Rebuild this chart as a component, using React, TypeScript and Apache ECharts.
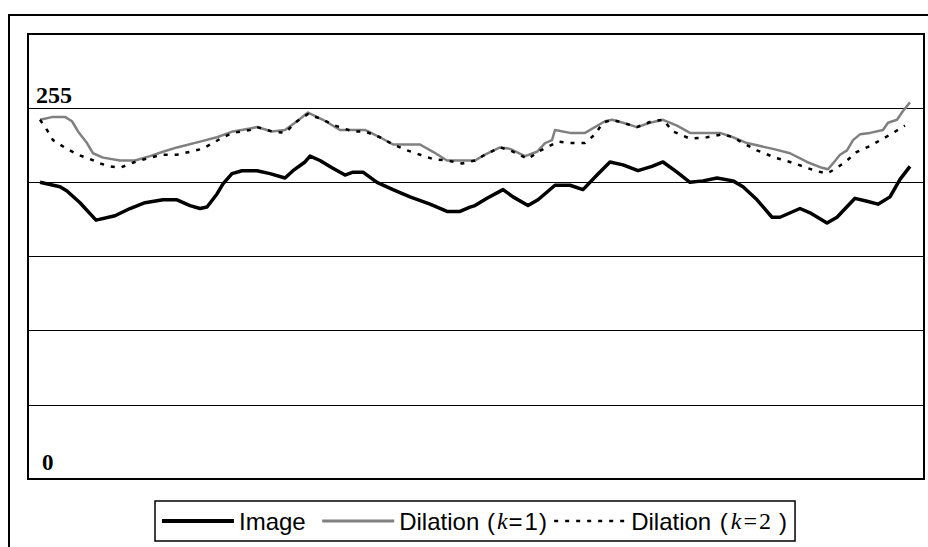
import React, { useEffect, useRef } from "react";
import * as echarts from "echarts";

// Column position (pixel index along the image row)
const imageX = [0,20,27,40,56,75,90,105,123,137,150,160,167,177,183,192,202,217,230,245,253,265,270,280,292,305,313,323,337,353,370,390,407,420,430,435,447,463,473,488,498,515,530,543,557,570,583,598,612,623,637,650,663,677,693,703,717,732,740,760,770,787,797,815,827,838,850,860,870];
const imageY = [204,201,198,190,178,181,186,190,192,192,188,186,187,196,203,210,212,212,210,207,212,218,222,219,214,209,211,211,204,199,194,189,184,184,187,188,193,199,194,188,192,202,202,199,209,218,216,212,215,218,211,204,205,207,205,201,192,180,180,186,183,176,180,193,191,189,194,206,215];

const dil1X = [0,13,25,32,38,47,53,63,80,95,110,123,137,160,177,193,210,217,232,245,257,268,283,300,325,340,353,380,393,407,420,435,445,460,470,485,497,505,512,515,530,545,565,572,583,597,610,623,637,650,680,693,707,733,750,767,782,788,793,800,807,813,820,830,843,848,857,863,870];
const dil1Y = [247,249,249,246,239,231,224,221,219,219,222,225,228,232,235,239,241,242,239,240,246,252,247,240,240,235,230,230,225,219,219,219,223,228,227,222,225,231,233,240,238,238,246,247,245,242,245,247,243,238,238,235,231,227,224,218,214,213,217,223,226,233,237,238,240,245,247,253,259];

const dil2X = [0,7,13,27,38,50,60,70,80,95,110,123,137,150,162,173,183,193,210,217,232,245,257,268,283,295,313,325,340,353,367,380,393,407,422,435,445,460,470,488,498,518,530,545,555,563,572,583,597,612,623,633,650,667,683,693,703,717,735,750,763,775,787,797,807,817,830,843,853,865];
const dil2Y = [247,240,233,227,223,220,217,215,214,218,221,223,223,225,227,231,235,238,240,242,239,238,246,251,247,243,239,239,235,230,226,223,220,219,217,219,223,228,226,220,225,232,231,231,237,245,247,245,242,246,247,239,234,235,237,235,231,226,221,218,215,212,210,214,219,225,229,234,238,243];

const seriesNames = ["Image", "Dilation (k=1)", "Dilation (k=2)"];
const yLabelValues = [255, 0];
const yMin = 0;
const yMax = 306;
const yStep = 51;
const xMin = -12;
const xMax = 884;

const pairs = (xs: number[], ys: number[]) => xs.map((x, i) => [x, ys[i]]);

const SANS = "'Liberation Sans', Arial, sans-serif";
const SERIF = "'Liberation Serif', 'Times New Roman', serif";

export default function App() {
  const ref = useRef<HTMLDivElement>(null);
  useEffect(() => {
    if (!ref.current) return;
    const chart = echarts.init(ref.current, undefined, { renderer: "svg" });
    const txt = { fontFamily: SANS, fontSize: 24, color: "#000" };
    chart.setOption({
      animation: false,
      backgroundColor: "#ffffff",
      graphic: [
        {
          type: "rect",
          shape: { x: 9, y: 15, width: 1000, height: 1000 },
          style: { fill: "none", stroke: "#000", lineWidth: 2 },
          silent: true,
        },
      ],
      grid: {
        left: 28,
        right: 4,
        top: 34,
        bottom: 68,
        show: true,
        borderColor: "#000",
        borderWidth: 2,
        backgroundColor: "transparent",
      },
      xAxis: {
        type: "value",
        min: xMin,
        max: xMax,
        show: false,
      },
      yAxis: {
        type: "value",
        min: yMin,
        max: yMax,
        interval: yStep,
        axisLine: { show: false },
        axisTick: { show: false },
        splitLine: { show: true, lineStyle: { color: "#000", width: 1 } },
        axisLabel: {
          inside: true,
          margin: 8,
          verticalAlign: "bottom",
          formatter: (v: number) =>
            v === yLabelValues[0] ? `{a|${v}}` : v === yLabelValues[1] ? `{b|${v}}` : "",
          rich: {
            a: {
              fontFamily: SERIF,
              fontSize: 24,
              fontWeight: "bold",
              color: "#000",
              padding: [0, 0, 1, 0],
            },
            b: {
              fontFamily: SERIF,
              fontSize: 23,
              fontWeight: "bold",
              color: "#000",
              padding: [0, 0, 5, 6],
            },
          },
        },
      },
      legend: {
        left: 155,
        top: 501,
        orient: "horizontal",
        padding: [8, 8, 8, 5],
        itemGap: 6,
        itemWidth: 72,
        itemHeight: 14,
        borderColor: "#000",
        borderWidth: 1.5,
        backgroundColor: "#fff",
        itemStyle: { opacity: 0 },
        data: [
          { name: seriesNames[0], lineStyle: { width: 4, color: "#000" } },
          { name: seriesNames[1], lineStyle: { width: 3, color: "#808080" } },
          { name: seriesNames[2], lineStyle: { width: 2.5, color: "#000", type: [4, 7] } },
        ],
        formatter: (name: string) => {
          if (name === seriesNames[0]) return `{ti|Image}`;
          if (name === seriesNames[1]) return `{t|Dilation }{p1|(}{k|k}{e|=}{t|1}{r|)}`;
          return `{t|Dilation }{p|(}{k|k}{s|=}{s|2}{q|)}`;
        },
        textStyle: {
          ...txt,
          rich: {
            ti: { ...txt, padding: [0, 9, 0, 0], backgroundColor: "#ffffff" },
            t: { ...txt },
            p: { ...txt, padding: [0, 2, 0, 2] },
            p1: { ...txt, padding: [0, 1, 0, 1] },
            r: { ...txt, padding: [0, 0, 0, 1] },
            e: { ...txt, padding: [0, 2, 0, 0] },
            q: { ...txt, padding: [0, 0, 0, 7] },
            k: { fontFamily: SERIF, fontStyle: "italic", fontSize: 24, color: "#000", padding: [0, 1, 0, 1] },
            s: { fontFamily: SERIF, fontSize: 24, color: "#000", padding: [0, 1, 0, 1] },
          },
        },
      },
      series: [
        {
          name: seriesNames[0],
          type: "line",
          data: pairs(imageX, imageY),
          symbol: "none",
          lineStyle: { color: "#000", width: 3.5, join: "round" },
          itemStyle: { color: "#000" },
          z: 3,
        },
        {
          name: seriesNames[1],
          type: "line",
          data: pairs(dil1X, dil1Y),
          symbol: "none",
          lineStyle: { color: "#808080", width: 2.5, join: "round" },
          itemStyle: { color: "#808080" },
          z: 4,
        },
        {
          name: seriesNames[2],
          type: "line",
          data: pairs(dil2X, dil2Y),
          symbol: "none",
          lineStyle: { color: "#000", width: 2.5, type: [4, 7] },
          itemStyle: { color: "#000" },
          z: 5,
        },
      ],
    });
    return () => chart.dispose();
  }, []);
  return (
    <div
      ref={ref}
      style={{ position: "absolute", left: 0, top: 0, width: 928, height: 547 }}
    />
  );
}
